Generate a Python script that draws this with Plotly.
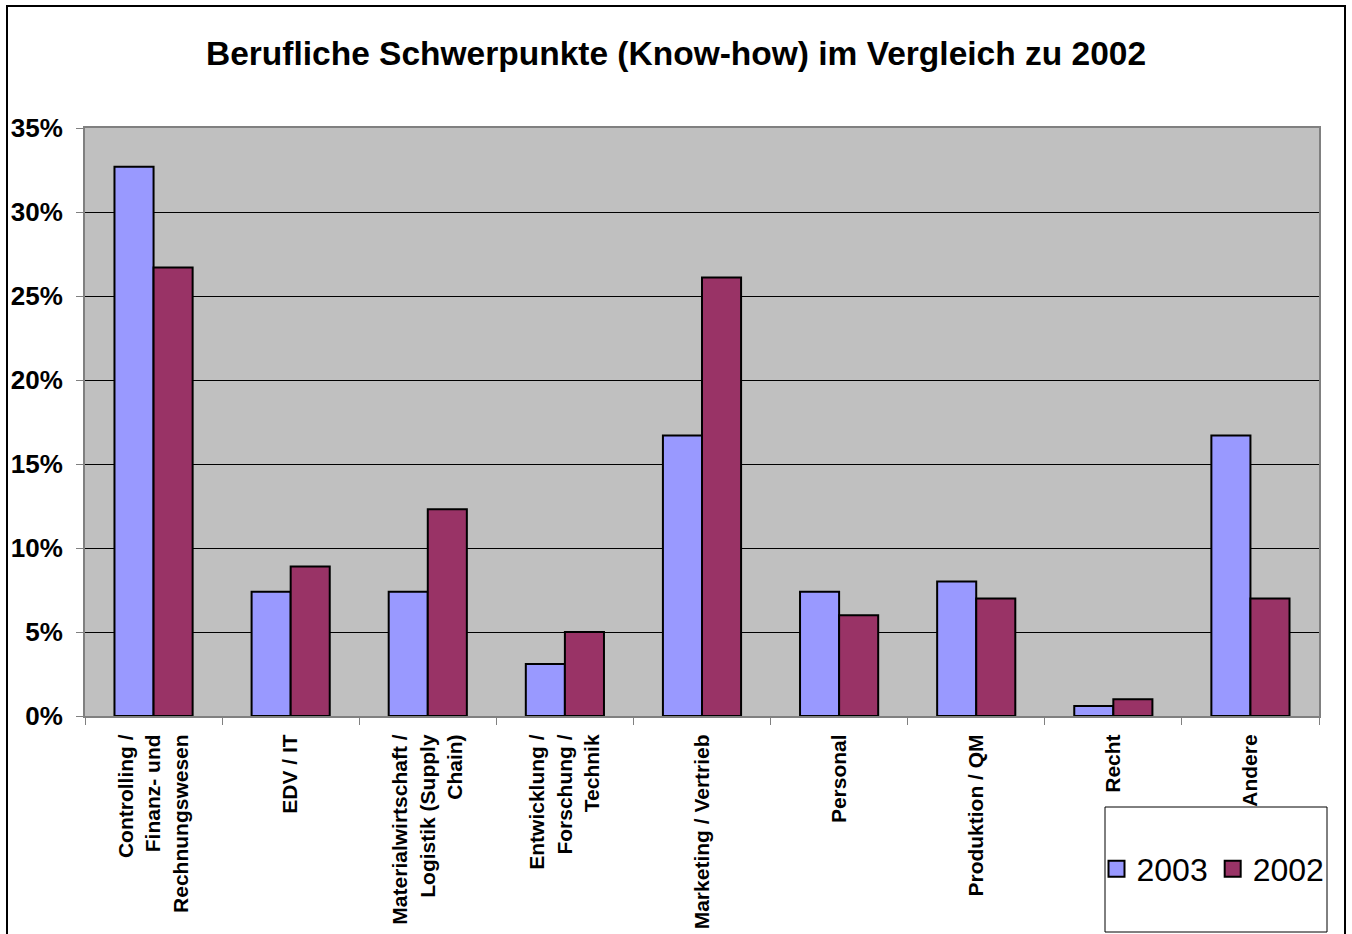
import plotly.graph_objects as go

categories = [
    "Controlling /<br>Finanz- und<br>Rechnungswesen",
    "EDV / IT",
    "Materialwirtschaft /<br>Logistik (Supply<br>Chain)",
    "Entwicklung /<br>Forschung /<br>Technik",
    "Marketing / Vertrieb",
    "Personal",
    "Produktion / QM",
    "Recht",
    "Andere",
]
values_2003 = [0.327, 0.074, 0.074, 0.031, 0.167, 0.074, 0.080, 0.006, 0.167]
values_2002 = [0.267, 0.089, 0.123, 0.050, 0.261, 0.060, 0.070, 0.010, 0.070]
series_names = ["2003", "2002"]
colors = ["#9999FF", "#993366"]
title_text = "Berufliche Schwerpunkte (Know-how) im Vergleich zu 2002"

FONT = "Liberation Sans, Arial, sans-serif"

fig = go.Figure()
for name, vals, col in zip(series_names, [values_2003, values_2002], colors):
    fig.add_trace(go.Bar(
        x=categories, y=vals, name=name, showlegend=False,
        marker=dict(color=col, line=dict(color="black", width=2)),
    ))
    # legend proxies with larger square swatches
    fig.add_trace(go.Scatter(
        x=[None], y=[None], mode="markers", name=name,
        marker=dict(symbol="square", size=22, color=col, line=dict(color="black", width=2)),
    ))

W, H = 1352, 934
L, R, T, B = 85, 33, 128, 218
pw, ph = W - L - R, H - T - B

def px(x):
    return (x - L) / pw

def py(y):
    return (H - B - y) / ph

fig.update_layout(
    width=W, height=H,
    margin=dict(l=L, r=R, t=T, b=B, autoexpand=False),
    paper_bgcolor="white",
    plot_bgcolor="#C0C0C0",
    barmode="group",
    bargap=0.43,
    bargroupgap=0,
    font=dict(family=FONT, color="black"),
    title=dict(text="<b>" + title_text + "</b>", x=0.5, xanchor="center",
               xref="container", y=1 - 53 / H, yanchor="middle", yref="container",
               font=dict(size=33.5, family=FONT, color="black")),
    showlegend=True,
    legend=dict(orientation="h", x=px(1213), y=py(869), xanchor="center", yanchor="middle",
                xref="paper", yref="paper",
                bgcolor="rgba(0,0,0,0)", borderwidth=0,
                font=dict(size=32, family=FONT, color="black"),
                itemsizing="trace", itemwidth=30, tracegroupgap=0),
    xaxis=dict(
        type="category",
        automargin=False,
        tickangle=-90,
        tickfont=dict(size=21, family=FONT, color="black", weight="bold"),
        ticks="outside", ticklen=7, tickcolor="#808080", tickwidth=1,
        tickson="boundaries",
        showline=True, linecolor="#808080", linewidth=2, mirror=True,
        showgrid=False,
        ticklabelstandoff=8,
    ),
    yaxis=dict(
        automargin=False,
        range=[0, 0.35], dtick=0.05, tickformat=".0%",
        tickfont=dict(size=26, family=FONT, color="black", weight="bold"),
        ticks="outside", ticklen=7, tickcolor="#808080", tickwidth=1,
        showline=True, linecolor="#808080", linewidth=2, mirror=True,
        showgrid=True, gridcolor="black", gridwidth=1,
        zeroline=False,
        ticklabelstandoff=8,
    ),
    shapes=[
        dict(type="rect", xref="paper", yref="paper",
             x0=px(7), x1=px(1345), y0=py(945), y1=py(6),
             line=dict(color="black", width=2), fillcolor="rgba(0,0,0,0)", layer="below"),
        dict(type="rect", xref="paper", yref="paper",
             x0=px(1105), x1=px(1327), y0=py(932), y1=py(807),
             line=dict(color="black", width=1), fillcolor="white", layer="above"),
    ],
)

fig.write_html("out.html")
